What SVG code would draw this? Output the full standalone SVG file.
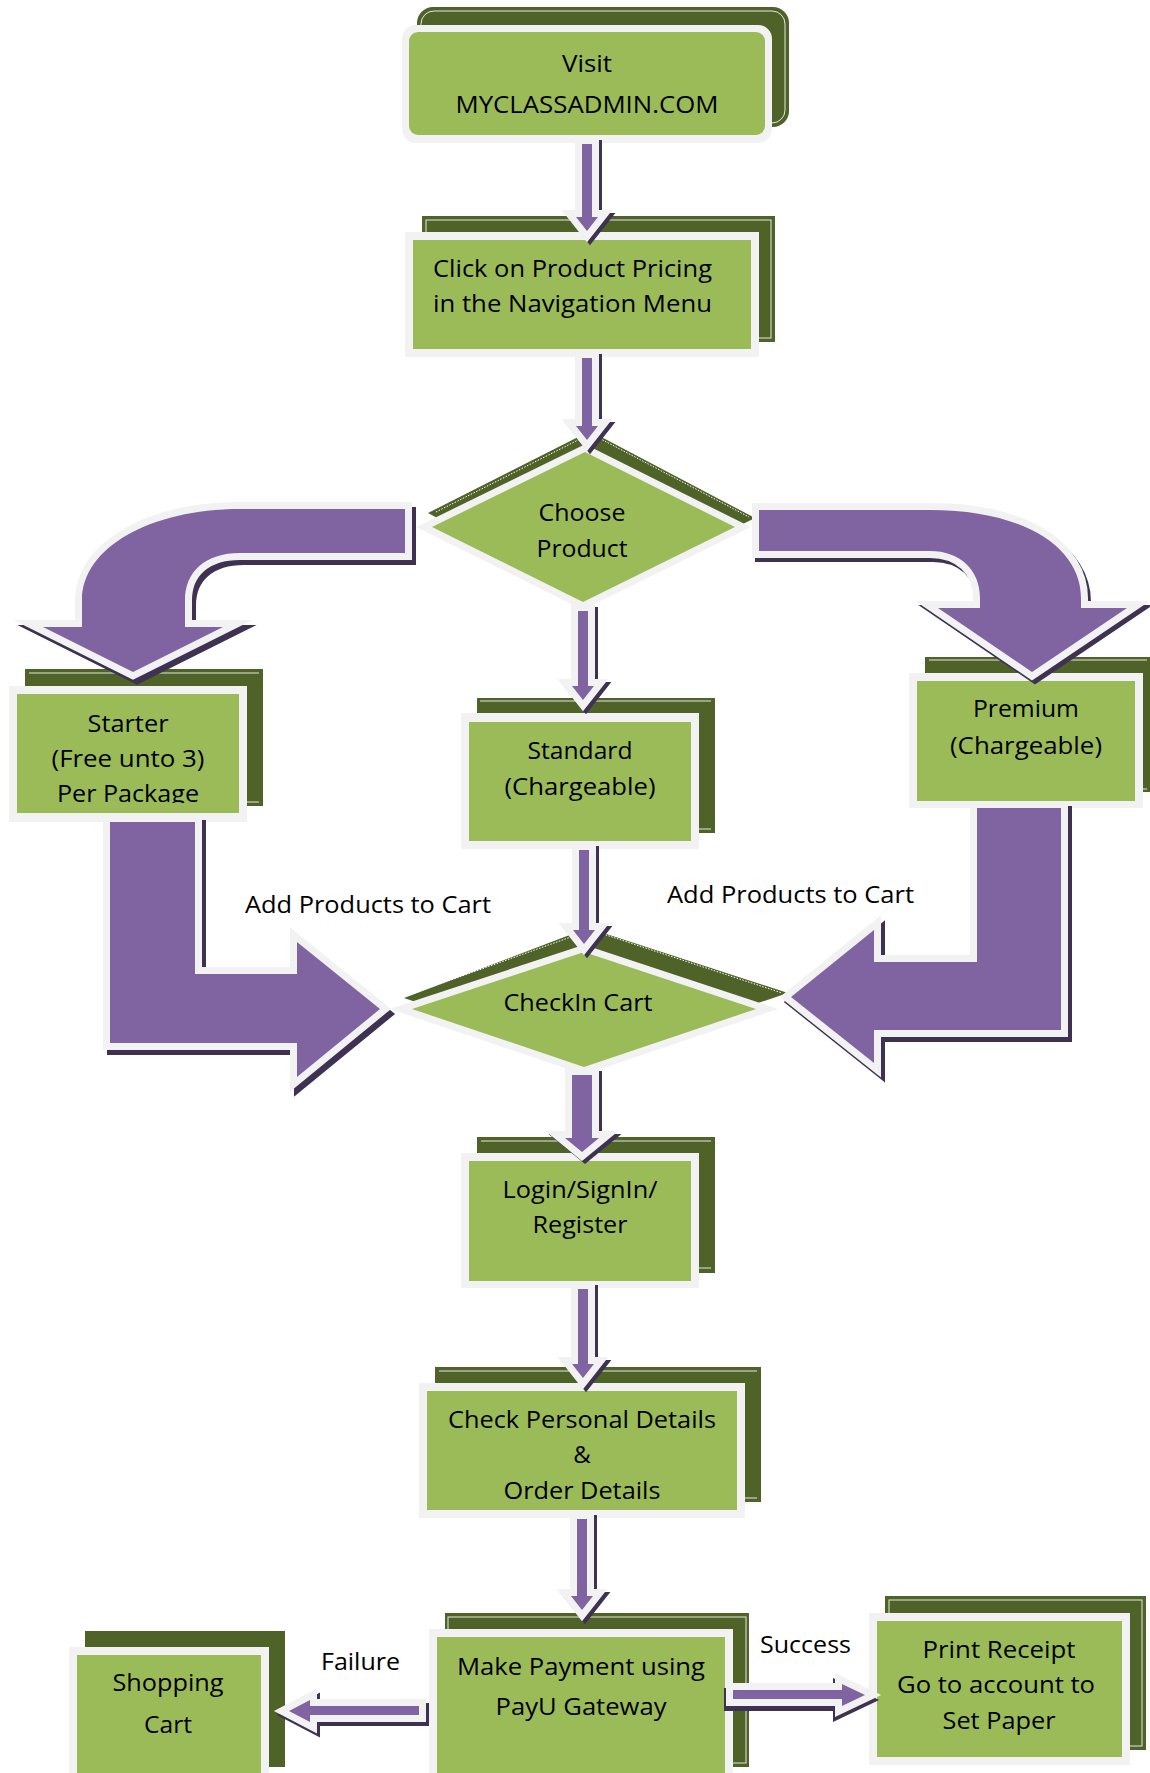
<svg xmlns="http://www.w3.org/2000/svg" xmlns:xlink="http://www.w3.org/1999/xlink" width="1150" height="1773" viewBox="0 0 1150 1773">
<style>
.shd{fill:#4f6228}
.fr{fill:none;stroke:#e6e6e6;stroke-width:1}
.wb{fill:#f2f2f2}
.gr{fill:#9bbb59}
.dia{fill:#9bbb59;stroke:#f2f2f2;stroke-width:14;paint-order:stroke;stroke-linejoin:miter;stroke-miterlimit:10}
.dot{fill:none;stroke:#ffffff;stroke-width:1;stroke-dasharray:1.5 1.5}
.ash{fill:#3f3151;stroke:#3f3151;stroke-width:14;stroke-linejoin:miter;stroke-miterlimit:10}
.ar{fill:#8064a2;stroke:#f2f2f2;stroke-width:14;paint-order:stroke;stroke-linejoin:miter;stroke-miterlimit:10}
text{font-family:"Open Sans","Noto Sans","Liberation Sans",sans-serif;font-size:24px;fill:#000;text-anchor:middle}
.st{text-anchor:start}
</style>
<defs>
<clipPath id="clipStarter"><rect x="17" y="694" width="222" height="109"/></clipPath>
<path id="a1" d="M582,144 H592 V217 H598 L587,231 L576,217 H582 Z"/>
<path id="a2" d="M582,358 H592 V426 H598 L587,440 L576,426 H582 Z"/>
<path id="a3" d="M578,611 H588 V686 H594 L583,700 L572,686 H578 Z"/>
<path id="a4" d="M579,850 H589 V930 H595 L584,944 L573,930 H579 Z"/>
<path id="a5" d="M572,1075 H592 V1138 H599 L582,1152 L565,1138 H572 Z"/>
<path id="a6" d="M578,1289 H588 V1364 H594 L583,1378 L572,1364 H578 Z"/>
<path id="a7" d="M577,1519 H587 V1596 H593 L582,1610 L571,1596 H577 Z"/>
<path id="aSucc" d="M733,1690 H842 V1684 L865,1695 L842,1706 V1699 H733 Z"/>
<path id="aFail" d="M419,1706 H310 V1700 L289,1711 L310,1722 V1715 H419 Z"/>
<path id="cLeft" d="M405,509 L240,509 C150,509 82,548 82,600 L82,627 L43,627 L133,672 L223,627 L185,627 L185,600 C185,572 205,553 240,553 L405,553 Z"/>
<path id="cRight" d="M759,510 L930,510 C1025,510 1081,548 1081,598 L1081,608 L1127,608 L1032,672 L938,608 L980,608 L980,598 C980,570 960,551 930,551 L759,551 Z"/>
<path id="lLeft" d="M110,822 L195,822 L195,974 L297,974 L297,942 L380,1009 L297,1077 L297,1043 L110,1043 Z"/>
<path id="lRight" d="M977,808 L1061,808 L1061,1030 L874,1030 L874,1063 L791,997 L874,930 L874,962 L977,962 Z"/>
</defs>
<rect x="0" y="0" width="1150" height="1773" fill="#ffffff"/>

<g id="n-visit">
<rect x="417" y="7" width="372" height="120" rx="16" class="shd"/>
<rect x="421" y="11" width="364" height="112" rx="13" class="fr"/>
<rect x="402" y="25" width="370" height="118" rx="14" class="wb"/>
<rect x="409" y="32" width="356" height="103" rx="9" class="gr"/>
<text x="587" y="72" textLength="50" lengthAdjust="spacingAndGlyphs">Visit</text>
<text x="587" y="113" textLength="263" lengthAdjust="spacingAndGlyphs">MYCLASSADMIN.COM</text>
</g>

<g id="n-click">
<rect x="422" y="216" width="353" height="126" class="shd"/>
<rect x="426" y="220" width="345" height="118" class="fr"/>
<rect x="405" y="232" width="354" height="125" class="wb"/>
<rect x="413" y="240" width="338" height="109" class="gr"/>
<text class="st" x="433" y="277" textLength="279" lengthAdjust="spacingAndGlyphs">Click on Product Pricing</text>
<text class="st" x="433" y="312" textLength="279" lengthAdjust="spacingAndGlyphs">in the Navigation Menu</text>
</g>

<g id="n-choose">
<polygon points="428,513 590,431 755,518 590,600" class="shd"/>
<polyline points="436,512 584,437" class="dot"/>
<polyline points="597,437 749,517" class="dot"/>
<polygon points="432,527 585,452 735,527 583,602" class="dia"/>
<text x="582" y="521" textLength="87" lengthAdjust="spacingAndGlyphs">Choose</text>
<text x="582" y="557" textLength="91" lengthAdjust="spacingAndGlyphs">Product</text>
</g>

<g id="n-starter">
<rect x="25" y="669" width="238" height="137" class="shd"/>
<path d="M29,673 H259 M247,802 H259" class="fr"/>
<rect x="9" y="686" width="238" height="136" class="wb"/>
<rect x="17" y="694" width="222" height="119" class="gr"/>
<g clip-path="url(#clipStarter)">
<text x="128" y="732" textLength="81" lengthAdjust="spacingAndGlyphs">Starter</text>
<text x="128" y="767" textLength="153" lengthAdjust="spacingAndGlyphs">(Free unto 3)</text>
<text x="128" y="802" textLength="142" lengthAdjust="spacingAndGlyphs">Per Package</text>
</g>
</g>

<g id="n-standard">
<rect x="477" y="698" width="238" height="135" class="shd"/>
<path d="M480,701 H711 M699,829 H711" class="fr"/>
<rect x="461" y="713" width="238" height="136" class="wb"/>
<rect x="469" y="722" width="222" height="119" class="gr"/>
<text x="580" y="759" textLength="105" lengthAdjust="spacingAndGlyphs">Standard</text>
<text x="580" y="795" textLength="151" lengthAdjust="spacingAndGlyphs">(Chargeable)</text>
</g>

<g id="n-premium">
<rect x="925" y="657" width="225" height="135" class="shd"/>
<path d="M929,660 H1147 M1143,789 H1147" class="fr"/>
<rect x="909" y="673" width="234" height="135" class="wb"/>
<rect x="917" y="681" width="218" height="120" class="gr"/>
<text x="1026" y="717" textLength="106" lengthAdjust="spacingAndGlyphs">Premium</text>
<text x="1026" y="754" textLength="152" lengthAdjust="spacingAndGlyphs">(Chargeable)</text>
</g>

<g id="n-checkin">
<polygon points="404,998 588,928 788,993 588,1060" class="shd"/>
<polyline points="412,994 582,933" class="dot"/>
<polyline points="597,932 782,993" class="dot"/>
<polygon points="412,1009 584,952 756,1009 584,1067" class="dia"/>
<text x="578" y="1011" textLength="149" lengthAdjust="spacingAndGlyphs">CheckIn Cart</text>
</g>

<g id="n-login">
<rect x="477" y="1137" width="238" height="136" class="shd"/>
<path d="M481,1141 H711 M699,1268 H711" class="fr"/>
<rect x="461" y="1153" width="238" height="135" class="wb"/>
<rect x="469" y="1161" width="222" height="120" class="gr"/>
<text x="580" y="1198" textLength="155" lengthAdjust="spacingAndGlyphs">Login/SignIn/</text>
<text x="580" y="1233" textLength="95" lengthAdjust="spacingAndGlyphs">Register</text>
</g>

<g id="n-details">
<rect x="435" y="1367" width="326" height="135" class="shd"/>
<path d="M439,1371 H757 M745,1498 H757" class="fr"/>
<rect x="419" y="1383" width="326" height="135" class="wb"/>
<rect x="427" y="1391" width="310" height="119" class="gr"/>
<text x="582" y="1428" textLength="268" lengthAdjust="spacingAndGlyphs">Check Personal Details</text>
<text x="582" y="1463">&amp;</text>
<text x="582" y="1499" textLength="157" lengthAdjust="spacingAndGlyphs">Order Details</text>
</g>

<g id="n-payment">
<rect x="445" y="1613" width="304" height="154" class="shd"/>
<rect x="448" y="1617" width="298" height="146" class="fr"/>
<rect x="429" y="1629" width="304" height="150" class="wb"/>
<rect x="437" y="1637" width="288" height="142" class="gr"/>
<text x="581" y="1675" textLength="248" lengthAdjust="spacingAndGlyphs">Make Payment using</text>
<text x="581" y="1715" textLength="171" lengthAdjust="spacingAndGlyphs">PayU Gateway</text>
</g>

<g id="n-cart">
<rect x="85" y="1631" width="200" height="136" class="shd"/>
<rect x="69" y="1647" width="200" height="132" class="wb"/>
<rect x="77" y="1655" width="184" height="124" class="gr"/>
<text x="168" y="1691" textLength="111" lengthAdjust="spacingAndGlyphs">Shopping</text>
<text x="168" y="1733" textLength="48" lengthAdjust="spacingAndGlyphs">Cart</text>
</g>

<g id="n-receipt">
<rect x="885" y="1596" width="261" height="154" class="shd"/>
<rect x="889" y="1600" width="253" height="146" class="fr"/>
<rect x="869" y="1613" width="261" height="152" class="wb"/>
<rect x="877" y="1621" width="245" height="136" class="gr"/>
<text x="999" y="1658" textLength="153" lengthAdjust="spacingAndGlyphs">Print Receipt</text>
<text x="996" y="1693" textLength="198" lengthAdjust="spacingAndGlyphs">Go to account to</text>
<text x="999" y="1729" textLength="113" lengthAdjust="spacingAndGlyphs">Set Paper</text>
</g>

<g id="connectors">
<use xlink:href="#cLeft" class="ash" transform="translate(4,5)"/>
<use xlink:href="#cLeft" class="ar"/>
<use xlink:href="#cRight" class="ash" transform="translate(3,4)"/>
<use xlink:href="#cRight" class="ar"/>
<use xlink:href="#lLeft" class="ash" transform="translate(4,5)"/>
<use xlink:href="#lLeft" class="ar"/>
<use xlink:href="#lRight" class="ash" transform="translate(4,5)"/>
<use xlink:href="#lRight" class="ar"/>
<use xlink:href="#a1" class="ash" transform="translate(3,3)"/>
<use xlink:href="#a1" class="ar"/>
<use xlink:href="#a2" class="ash" transform="translate(3,3)"/>
<use xlink:href="#a2" class="ar"/>
<use xlink:href="#a3" class="ash" transform="translate(3,3)"/>
<use xlink:href="#a3" class="ar"/>
<use xlink:href="#a4" class="ash" transform="translate(3,3)"/>
<use xlink:href="#a4" class="ar"/>
<use xlink:href="#a5" class="ash" transform="translate(3,3)"/>
<use xlink:href="#a5" class="ar"/>
<use xlink:href="#a6" class="ash" transform="translate(3,3)"/>
<use xlink:href="#a6" class="ar"/>
<use xlink:href="#a7" class="ash" transform="translate(3,3)"/>
<use xlink:href="#a7" class="ar"/>
<use xlink:href="#aSucc" class="ash" transform="translate(-2,5)"/>
<use xlink:href="#aSucc" class="ar"/>
<use xlink:href="#aFail" class="ash" transform="translate(3,4)"/>
<use xlink:href="#aFail" class="ar"/>
<text class="st" x="245" y="913" textLength="246" lengthAdjust="spacingAndGlyphs">Add Products to Cart</text>
<text class="st" x="667" y="903" textLength="247" lengthAdjust="spacingAndGlyphs">Add Products to Cart</text>
<text class="st" x="321" y="1670" textLength="79" lengthAdjust="spacingAndGlyphs">Failure</text>
<text class="st" x="760" y="1653" textLength="91" lengthAdjust="spacingAndGlyphs">Success</text>
</g>
</svg>
